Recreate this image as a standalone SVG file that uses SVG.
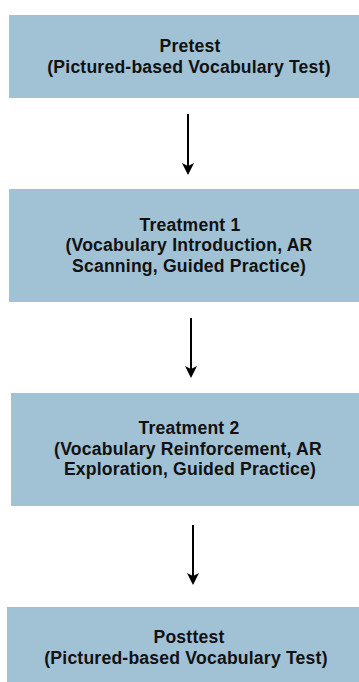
<svg xmlns="http://www.w3.org/2000/svg" width="359" height="682" viewBox="0 0 359 682">
  <defs>
    <style>
      .box { fill: #a1c1d5; }
      .lbl { font-family: "Liberation Sans", Arial, sans-serif; font-weight: 700; font-size: 17.6px; letter-spacing: 0.2px; fill: #111111; text-anchor: middle; }
      .conn { stroke: #000000; stroke-width: 2; fill: none; }
      .head { fill: #000000; }
    </style>
  </defs>
  <rect width="359" height="682" fill="#ffffff"/>

  <g id="pretest">
    <rect class="box" x="9" y="15" width="350" height="83"/>
    <text class="lbl"><tspan x="190" y="52">Pretest</tspan><tspan x="189" y="72.5">(Pictured-based Vocabulary Test)</tspan></text>
  </g>

  <g id="treatment1">
    <rect class="box" x="9" y="189" width="350" height="113"/>
    <text class="lbl"><tspan x="190" y="230.5">Treatment 1</tspan><tspan x="189" y="251">(Vocabulary Introduction, AR</tspan><tspan x="189" y="271.5">Scanning, Guided Practice)</tspan></text>
  </g>

  <g id="treatment2">
    <rect class="box" x="11" y="393" width="348" height="113"/>
    <text class="lbl"><tspan x="189" y="434">Treatment 2</tspan><tspan x="188" y="454.5">(Vocabulary Reinforcement, AR</tspan><tspan x="190" y="475">Exploration, Guided Practice)</tspan></text>
  </g>

  <g id="posttest">
    <rect class="box" x="7" y="607" width="352" height="75"/>
    <text class="lbl"><tspan x="189" y="643">Posttest</tspan><tspan x="186" y="663.5">(Pictured-based Vocabulary Test)</tspan></text>
  </g>

  <g id="connectors">
    <line class="conn" x1="188" y1="114" x2="188" y2="170"/>
    <path class="head" d="M182,163 L188,166 L194,163 L188,175 Z"/>
    <line class="conn" x1="191" y1="318" x2="191" y2="373"/>
    <path class="head" d="M185,366 L191,369 L197,366 L191,378 Z"/>
    <line class="conn" x1="193" y1="525" x2="193" y2="580"/>
    <path class="head" d="M187,573 L193,576 L199,573 L193,585 Z"/>
  </g>
</svg>
